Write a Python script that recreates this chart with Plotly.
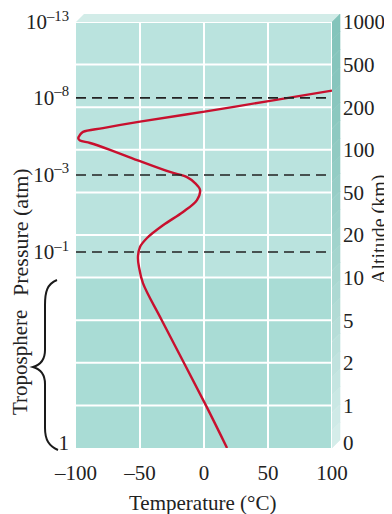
import plotly.graph_objects as go

# ---- data ----
temp_c = [18, 1.5, -33, -47.7, -50.8, -51.6, -50, -44.5, -32, -16.4, -5.5, -3.1, -7, -13.3,
          -26.6, -52.3, -73.4, -89, -96.9, -98.2, -96.9, -94.5, -78.9, -50, -0.8, 51.6, 100]
level = [0, 1.0, 3.0, 3.87, 4.25, 4.48, 4.72, 4.93, 5.23, 5.54, 5.82, 6.06, 6.22, 6.36,
         6.48, 6.76, 7.00, 7.16, 7.22, 7.27, 7.35, 7.42, 7.51, 7.66, 7.89, 8.15, 8.39]

pressure_levels = [10, 8.22, 6.41, 4.60, 0.12]
pressure_labels = ["10<sup>–13</sup>", "10<sup>–8</sup>", "10<sup>–3</sup>", "10<sup>–1</sup>", "1"]
boundary_levels = [8.22, 6.41, 4.60]

altitude_levels = [0.12, 1, 2, 3, 4, 5, 6, 7, 8, 9, 10]
altitude_labels = ["0", "1", "2", "5", "10", "20", "50", "100", "200", "500", "1000"]

temp_ticks = [-100, -50, 0, 50, 100]
temp_labels = ["–100", "–50", "0", "50", "100"]
grid_temps = [-50, 0, 50, 100]
grid_levels = [1, 2, 3, 4, 5, 6, 7, 8, 9, 10]
troposphere_top = 4

# ---- layout geometry (page body has an 8px margin) ----
OFF = 8
W, H = 384, 506
L, R, T, B = 68, 60, 14, 66
PW, PH = W - L - R, H - T - B


def px(x):  # window pixel -> paper
    return (x - OFF - L) / PW


def py(y):
    return (H - B - (y - OFF)) / PH


FONT = "Liberation Serif"
UPPER = "#bae3de"
LOWER = "#a9dcd5"

fig = go.Figure()

fig.add_trace(go.Scatter(
    x=temp_c, y=level, mode="lines",
    line=dict(color="#c8102e", width=2.4, shape="spline", smoothing=1.0),
    hoverinfo="skip", showlegend=False))

fig.add_trace(go.Scatter(x=[None], y=[None], yaxis="y2", showlegend=False, hoverinfo="skip"))

shapes = []
shapes.append(dict(type="rect", xref="x", yref="y", x0=-100, x1=100, y0=0, y1=troposphere_top,
                   fillcolor=LOWER, line=dict(width=0), layer="below"))
for g in grid_temps:
    shapes.append(dict(type="line", xref="x", yref="y", x0=g, x1=g, y0=0, y1=10,
                       line=dict(color="white", width=2), layer="below"))
for g in grid_levels:
    shapes.append(dict(type="line", xref="x", yref="y", x0=-100, x1=100, y0=g, y1=g,
                       line=dict(color="white", width=2), layer="below"))
for b in boundary_levels:
    shapes.append(dict(type="line", xref="x", yref="y", x0=-100, x1=98, y0=b, y1=b,
                       line=dict(color="#222222", width=1.6, dash="10px,6px"), layer="above"))

# 3D top bevel
shapes.append(dict(type="path", xref="paper", yref="paper",
                   path=f"M {px(76)} {py(22)} L {px(84)} {py(14)} L {px(340)} {py(14)} L {px(332)} {py(22)} Z",
                   fillcolor="#d2ece8", line=dict(width=0), layer="below"))
# right strip gradient
n = 24
top_c = (0x84, 0xc4, 0xbb)
bot_c = (0xd8, 0xef, 0xec)
for i in range(n):
    y0 = 14 + (440 - 14) * i / n
    y1 = 14 + (440 - 14) * (i + 1) / n
    f = ((i + 0.5) / n) ** 1.6
    c = tuple(int(top_c[k] + (bot_c[k] - top_c[k]) * f) for k in range(3))
    col = "rgb(%d,%d,%d)" % c
    path = (f"M {px(332)} {py(y0 + 8)} L {px(340)} {py(y0)} L {px(340)} {py(y1)} "
            f"L {px(332)} {py(y1 + 8)} Z")
    shapes.append(dict(type="path", xref="paper", yref="paper", path=path,
                       fillcolor=col, line=dict(width=0.6, color=col), layer="below"))

# brace for troposphere
brace = (f"M {px(57)} {py(280)} C {px(47)} {py(284)} {px(45)} {py(292)} {px(45)} {py(305)} "
         f"L {px(45)} {py(350)} C {px(45)} {py(360)} {px(40)} {py(365)} {px(33)} {py(367)} "
         f"C {px(40)} {py(369)} {px(45)} {py(374)} {px(45)} {py(384)} "
         f"L {px(45)} {py(428)} C {px(45)} {py(440)} {px(49)} {py(446)} {px(58)} {py(450)}")
shapes.append(dict(type="path", xref="paper", yref="paper", path=brace,
                   line=dict(color="#1a1a1a", width=2)))

annotations = [
    dict(text="Temperature (°C)", x=px(202), y=py(503), xref="paper", yref="paper",
         showarrow=False, xanchor="center", yanchor="middle",
         font=dict(family=FONT, size=21, color="#222")),
    dict(text="Pressure (atm)", x=px(20), y=py(232), xref="paper", yref="paper",
         showarrow=False, xanchor="center", yanchor="middle", textangle=-90,
         font=dict(family=FONT, size=22, color="#222")),
    dict(text="Troposphere", x=px(20), y=py(363), xref="paper", yref="paper",
         showarrow=False, xanchor="center", yanchor="middle", textangle=-90,
         font=dict(family=FONT, size=21, color="#222")),
    dict(text="Altitude (km)", x=px(379), y=py(230), xref="paper", yref="paper",
         showarrow=False, xanchor="center", yanchor="middle", textangle=-90,
         font=dict(family=FONT, size=20, color="#222")),
]

axfont = dict(family=FONT, size=21, color="#222")
fig.update_layout(
    width=W, height=H,
    margin=dict(l=L, r=R, t=T, b=B, pad=0, autoexpand=False),
    paper_bgcolor="white", plot_bgcolor=UPPER,
    showlegend=False,
    shapes=shapes, annotations=annotations,
    xaxis=dict(range=[-100, 100], tickvals=temp_ticks, ticktext=temp_labels,
               showgrid=False, zeroline=False, showline=False, ticks="",
               ticklabelstandoff=10, automargin=False, ticklabeloverflow="allow",
               tickfont=axfont, fixedrange=True),
    yaxis=dict(range=[0, 10], tickvals=pressure_levels, ticktext=pressure_labels,
               showgrid=False, zeroline=False, showline=False, ticks="",
               ticklabelstandoff=6, automargin=False, ticklabeloverflow="allow",
               tickfont=axfont, fixedrange=True),
    yaxis2=dict(range=[0, 10], overlaying="y", side="right", tickvals=altitude_levels,
                ticktext=altitude_labels, showgrid=False, zeroline=False, showline=False,
                ticks="", ticklabelstandoff=10, automargin=False, ticklabeloverflow="allow",
                tickfont=axfont, fixedrange=True),
)

fig.write_html("out.html")
